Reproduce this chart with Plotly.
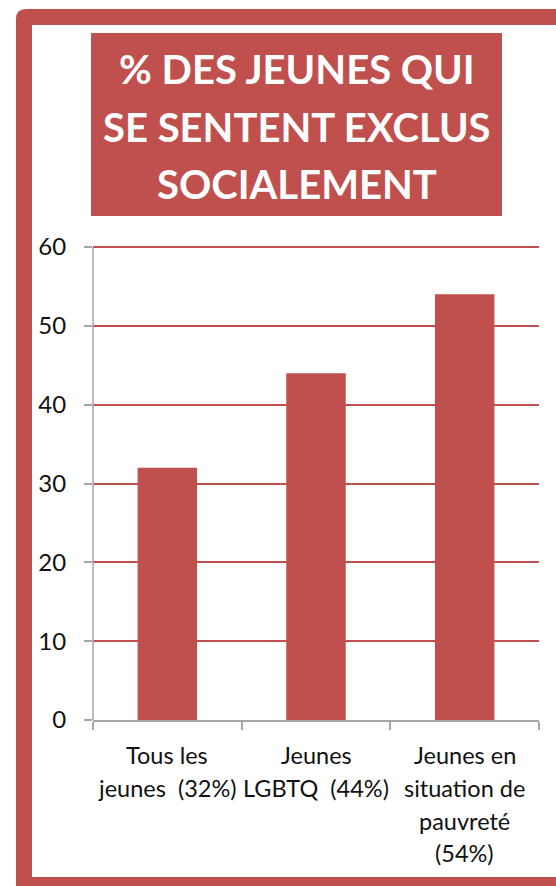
import plotly.graph_objects as go

# ---- data ----
categories = ["Tous les jeunes (32%)", "Jeunes LGBTQ (44%)", "Jeunes en situation de pauvreté (54%)"]
category_lines = [
    ["Tous les", "jeunes\u00a0\u00a0(32%)"],
    ["Jeunes", "LGBTQ\u00a0\u00a0(44%)"],
    ["Jeunes en", "situation de", "pauvreté", "(54%)"],
]
values = [32, 44, 54]
title_lines = ["% DES JEUNES QUI", "SE SENTENT EXCLUS", "SOCIALEMENT"]
y_ticks = [0, 10, 20, 30, 40, 50, 60]

RED = "#C0504D"
GRAY = "#A6A6A6"
FONT = "Lato"

W, H = 556, 886
L, R, T, B = 93, 539, 244, 720  # plot area in pixels (60 sits at y=247)
Y_MAX = 60 * (B - T) / (B - 247)


def px(x):
    return (x - L) / (R - L)


def py(y):
    return (B - y) / (B - T)


fig = go.Figure()
fig.add_trace(go.Bar(x=categories, y=values, marker=dict(color=RED, line=dict(width=0)),
                     hoverinfo="skip"))

shapes = []
# outer red frame with rounded top-left corner
r = 10
x0, y0, x1, y1 = 16, 9, 620, 950
path = (f"M {px(x0)},{py(y0 + r)} Q {px(x0)},{py(y0)} {px(x0 + r)},{py(y0)} "
        f"L {px(x1)},{py(y0)} L {px(x1)},{py(y1)} L {px(x0)},{py(y1)} Z")
shapes.append(dict(type="path", xref="paper", yref="paper", path=path,
                   fillcolor=RED, line=dict(width=0), layer="below"))
shapes.append(dict(type="rect", xref="paper", yref="paper",
                   x0=px(32), x1=px(620), y0=py(25), y1=py(877),
                   fillcolor="white", line=dict(width=0), layer="below"))
# title box
shapes.append(dict(type="rect", xref="paper", yref="paper",
                   x0=px(91), x1=px(502), y0=py(33), y1=py(216),
                   fillcolor=RED, line=dict(width=0), layer="below"))

annotations = []
title_y = [69, 127, 184]
for line, yy in zip(title_lines, title_y):
    annotations.append(dict(text=f"<b>{line}</b>", xref="paper", yref="paper",
                            x=px(296.5), y=py(yy), xanchor="center", yanchor="middle",
                            showarrow=False,
                            font=dict(family=FONT, size=40, color="white")))

line_y = [755, 788, 821, 853]
for cat, lines in zip(categories, category_lines):
    for i, ln in enumerate(lines):
        annotations.append(dict(text=ln, xref="x", yref="paper", x=cat, y=py(line_y[i]),
                                xanchor="center", yanchor="middle", showarrow=False,
                                font=dict(family=FONT, size=23.5, color="#111111")))

fig.update_layout(
    width=W, height=H,
    margin=dict(l=L, r=W - R, t=T, b=H - B, pad=0),
    paper_bgcolor="white",
    plot_bgcolor="rgba(0,0,0,0)",
    bargap=0.6,
    showlegend=False,
    shapes=shapes,
    annotations=annotations,
    xaxis=dict(type="category", range=[-0.5, 2.5], showticklabels=False,
               showgrid=False, zeroline=False, showline=True, linecolor=GRAY, linewidth=1.5,
               ticks="outside", tickson="boundaries", ticklen=8, tickcolor=GRAY, tickwidth=1.5,
               fixedrange=True),
    yaxis=dict(range=[0, Y_MAX], tickvals=y_ticks, showgrid=True, gridcolor=RED, gridwidth=1.5,
               zeroline=False, showline=False,
               ticks="outside", ticklen=8, tickcolor=GRAY, tickwidth=1.5,
               ticklabelstandoff=13,
               tickfont=dict(family=FONT, size=24, color="#111111"), fixedrange=True),
)
# y axis line from 0 up to the top tick (as in the reference)
fig.add_shape(type="line", xref="paper", yref="y", x0=0, x1=0, y0=y_ticks[0], y1=y_ticks[-1],
              line=dict(color=GRAY, width=1.5))

fig.write_html("out.html", config={"displayModeBar": False})
